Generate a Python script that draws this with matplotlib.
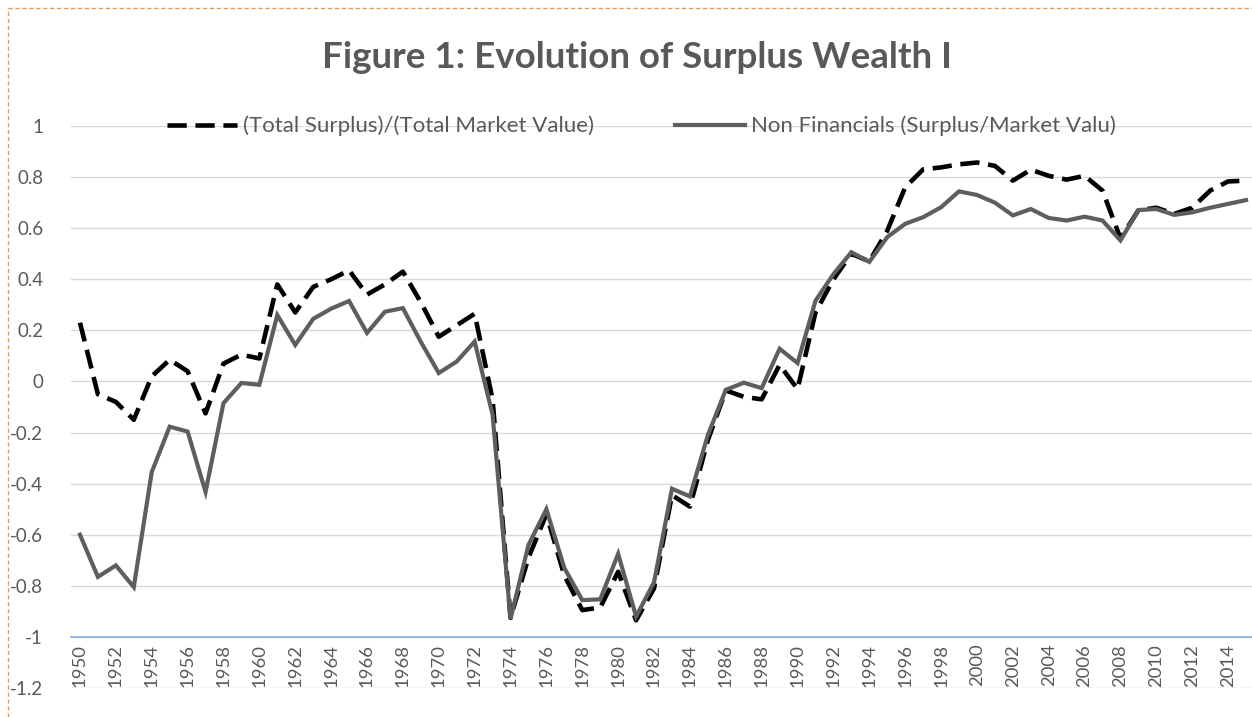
import matplotlib
matplotlib.use("Agg")
import matplotlib.pyplot as plt
from matplotlib.lines import Line2D
import numpy as np

years = list(range(1950, 2016))

total_surplus = [
    0.23, -0.05, -0.08, -0.15, 0.02, 0.085, 0.04, -0.125, 0.07, 0.105,
    0.09, 0.38, 0.27, 0.37, 0.40, 0.435, 0.34, 0.38, 0.43, 0.31,
    0.175, 0.22, 0.265, -0.07, -0.925, -0.69, -0.52, -0.76, -0.895, -0.885,
    -0.745, -0.935, -0.81, -0.445, -0.49, -0.23, -0.035, -0.06, -0.07, 0.065,
    -0.03, 0.27, 0.40, 0.50, 0.47, 0.59, 0.76, 0.83, 0.838, 0.85,
    0.857, 0.844, 0.786, 0.829, 0.805, 0.79, 0.805, 0.747, 0.56, 0.67,
    0.68, 0.656, 0.68, 0.747, 0.783, 0.786,
]

non_financials = [
    -0.60, -0.765, -0.72, -0.805, -0.355, -0.177, -0.196, -0.432, -0.085, -0.006,
    -0.013, 0.26, 0.143, 0.245, 0.285, 0.315, 0.19, 0.273, 0.287, 0.155,
    0.033, 0.078, 0.156, -0.13, -0.93, -0.64, -0.50, -0.73, -0.856, -0.853,
    -0.675, -0.92, -0.786, -0.42, -0.45, -0.21, -0.033, -0.005, -0.026, 0.128,
    0.072, 0.316, 0.42, 0.506, 0.468, 0.565, 0.617, 0.643, 0.682, 0.744,
    0.73, 0.70, 0.65, 0.675, 0.64, 0.63, 0.645, 0.63, 0.552, 0.671,
    0.675, 0.652, 0.662, 0.68, 0.695, 0.71,
]

tick_years = list(range(1950, 2015, 2))
y_ticks = [-1.2, -1.0, -0.8, -0.6, -0.4, -0.2, 0, 0.2, 0.4, 0.6, 0.8, 1.0]
y_labels = ["-1.2", "-1", "-0.8", "-0.6", "-0.4", "-0.2", "0", "0.2", "0.4", "0.6", "0.8", "1"]

title = "Figure 1: Evolution of Surplus Wealth I"
label_total = "(Total Surplus)/(Total Market Value)"
label_nonfin = "Non Financials (Surplus/Market Valu)"

plt.rcParams['font.family'] = ['Lato', 'DejaVu Sans']
txt_color = "#595959"

W, H = 1252, 717
fig = plt.figure(figsize=(W / 100, H / 100), dpi=100)
fig.patch.set_facecolor("white")

left_px, right_px, top_px, bottom_px = 71, 1255, 126, 688
ax = fig.add_axes([left_px / W, (H - bottom_px) / H,
                   (right_px - left_px) / W, (bottom_px - top_px) / H])
ax.set_facecolor("none")

ax.set_xlim(1949.5, 2015.5)
ax.set_ylim(-1.2, 1.0)

for yv in y_ticks:
    ax.axhline(yv, color="#d9d9d9", lw=1.0, zorder=0)

ax.plot(years, total_surplus, color="black", lw=3.3, linestyle=(0, (4.2, 1.9)),
        zorder=3, label=label_total)
ax.plot(years, non_financials, color="#5e5e5e", lw=3.0, zorder=4,
        solid_joinstyle="miter", label=label_nonfin)

for s in ["top", "right", "left"]:
    ax.spines[s].set_visible(False)
ax.spines["bottom"].set_position(("data", -1.0))
ax.spines["bottom"].set_color("#8fb4dc")
ax.spines["bottom"].set_linewidth(1.3)
ax.spines["bottom"].set_zorder(2)

ax.set_xticks(tick_years)
ax.set_xticklabels([str(y) for y in tick_years], rotation=90, fontsize=13.3,
                   color=txt_color)
ax.tick_params(axis="x", length=0, pad=5)
ax.set_yticks(y_ticks)
ax.set_yticklabels(y_labels, fontsize=13.5, color=txt_color)
ax.tick_params(axis="y", length=0, pad=20)

leg = ax.legend(loc="center", bbox_to_anchor=(0.482, 1.0), ncol=2, frameon=False,
                fontsize=16, handlelength=3.15, handletextpad=0.27,
                columnspacing=3.65, labelcolor=txt_color)

fig.text(0.5085, 1 - 58 / H, title, ha="center", va="center", fontsize=26.5,
         fontweight="bold", color=txt_color)

# dotted orange frame
bc = "#f79646"
fig.add_artist(Line2D([8 / W, 8 / W], [0, 1 - 8 / H], transform=fig.transFigure,
                      color=bc, lw=1.0, linestyle=(0, (3, 2))))
fig.add_artist(Line2D([8 / W, 1], [1 - 8 / H, 1 - 8 / H], transform=fig.transFigure,
                      color=bc, lw=1.0, linestyle=(0, (3, 2))))

fig.savefig("out.png", dpi=100)
